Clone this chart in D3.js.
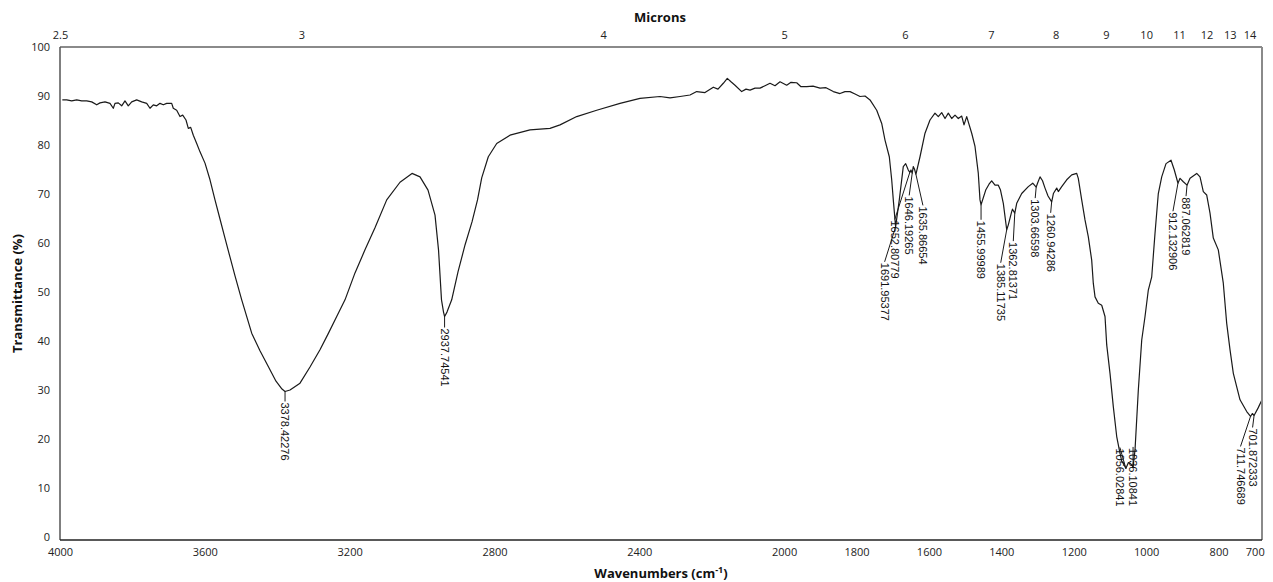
<!DOCTYPE html>
<html>
<head>
<meta charset="utf-8">
<script src="https://d3js.org/d3.v7.min.js"></script>
<style>
  body { margin: 0; background: #fff; }
  svg { display: block; }
</style>
</head>
<body>
<svg id="chart" width="1273" height="582"></svg>
<script>
// spectrum: wavenumber (cm-1) and transmittance (%)
var wavenumber = [
  3993.6, 3981.5, 3967.7, 3953.9, 3940.1, 3926.3, 3912.4, 3898.6, 3889.5, 3875.7,
  3861.9, 3852.8, 3848.1, 3839.0, 3829.6, 3820.5, 3811.4, 3802.0, 3788.2, 3774.3,
  3760.5, 3751.4, 3742.3, 3732.9, 3723.8, 3714.7, 3705.3, 3691.5, 3687.1, 3677.7,
  3668.6, 3661.1, 3652.0, 3645.6, 3639.0, 3631.8, 3622.4, 3613.3, 3599.5, 3585.7,
  3571.9, 3558.1, 3544.3, 3530.4, 3516.6, 3498.1, 3470.5, 3447.6, 3424.7, 3403.4,
  3386.8, 3378.4, 3364.7, 3337.1, 3309.5, 3281.9, 3259.8, 3235.7, 3212.8, 3185.2,
  3157.6, 3130.0, 3097.6, 3060.9, 3027.7, 3005.6, 2983.5, 2964.2, 2954.5, 2946.3,
  2940.7, 2937.7, 2931.1, 2918.1, 2900.7, 2881.3, 2862.0, 2846.8, 2835.2, 2817.0,
  2793.8, 2757.1, 2701.8, 2646.6, 2618.9, 2572.8, 2517.6, 2453.2, 2398.0, 2342.7,
  2315.1, 2287.5, 2259.9, 2241.4, 2218.5, 2195.5, 2182.6, 2167.9, 2156.9, 2146.7,
  2135.6, 2117.1, 2105.2, 2094.2, 2080.3, 2066.5, 2052.7, 2038.9, 2025.1, 2011.3,
  1992.8, 1980.9, 1965.2, 1953.3, 1937.6, 1920.1, 1900.8, 1884.2, 1864.1, 1845.6,
  1831.8, 1817.9, 1804.1, 1790.3, 1776.5, 1762.7, 1744.2, 1730.4, 1721.3, 1709.4,
  1702.8, 1698.4, 1692.0, 1681.8, 1670.8, 1664.2, 1657.0, 1652.8, 1649.5, 1646.2,
  1643.2, 1639.5, 1635.9, 1624.6, 1610.8, 1597.0, 1583.2, 1574.1, 1564.7, 1555.5,
  1546.4, 1537.1, 1527.9, 1518.8, 1509.4, 1503.1, 1495.6, 1481.8, 1472.7, 1463.6,
  1458.9, 1456.0, 1443.1, 1434.0, 1426.7, 1417.4, 1408.3, 1402.3, 1394.5, 1385.1,
  1380.7, 1371.4, 1369.2, 1362.8, 1357.5, 1343.7, 1325.5, 1313.3, 1303.7, 1300.0,
  1293.1, 1286.2, 1279.3, 1271.0, 1260.9, 1256.2, 1247.0, 1242.6, 1233.2, 1219.4,
  1205.6, 1191.8, 1187.4, 1178.0, 1168.9, 1159.8, 1150.4, 1146.0, 1141.2, 1132.1,
  1122.7, 1113.6, 1108.9, 1099.8, 1090.7, 1081.3, 1074.1, 1067.5, 1061.2, 1056.0,
  1049.0, 1042.0, 1036.1, 1030.7, 1021.6, 1012.2, 1003.1, 994.0, 984.6, 975.5,
  966.4, 957.0, 945.1, 931.3, 922.2, 912.1, 906.4, 897.3, 887.1, 878.8,
  860.3, 851.2, 842.1, 832.8, 823.6, 814.5, 800.7, 786.9, 777.5, 768.3,
  759.2, 740.7, 722.2, 711.7, 706.7, 701.9, 691.0, 680.0
];
var transmittance = [
  89.2, 89.2, 89.0, 89.2, 89.0, 89.0, 88.8, 88.2, 88.6, 88.8,
  88.5, 87.5, 88.5, 88.6, 88.0, 89.0, 88.0, 88.8, 89.2, 88.8,
  88.5, 87.5, 88.2, 88.0, 88.5, 88.2, 88.5, 88.5, 87.5, 87.1,
  85.8, 86.1, 85.1, 83.4, 83.6, 82.0, 80.3, 78.6, 76.3, 72.9,
  68.8, 64.9, 61.0, 57.1, 53.3, 48.4, 41.6, 38.0, 34.8, 31.8,
  30.2, 29.7, 30.0, 31.4, 34.7, 38.2, 41.4, 45.0, 48.4, 53.9,
  58.6, 63.1, 68.8, 72.4, 74.2, 73.5, 70.8, 65.7, 58.6, 48.4,
  45.9, 45.0, 45.9, 48.4, 54.1, 59.6, 64.3, 68.8, 73.3, 77.6,
  80.3, 82.0, 83.1, 83.4, 84.1, 85.8, 87.1, 88.5, 89.5, 89.9,
  89.6, 89.9, 90.2, 90.9, 90.7, 91.8, 91.4, 92.6, 93.6, 92.9,
  92.2, 90.9, 91.4, 91.2, 91.6, 91.6, 92.1, 92.6, 92.1, 92.9,
  92.2, 92.8, 92.7, 91.9, 91.9, 92.0, 91.6, 91.7, 90.9, 90.5,
  90.9, 90.9, 90.4, 89.9, 90.0, 89.2, 87.1, 84.4, 81.0, 77.6,
  72.9, 68.8, 63.3, 68.8, 75.6, 76.2, 74.9, 74.4, 74.9, 74.2,
  75.6, 75.0, 74.0, 77.6, 82.4, 85.1, 86.5, 85.8, 86.6, 85.4,
  86.5, 85.4, 86.1, 85.4, 85.9, 84.1, 85.8, 82.4, 79.7, 74.2,
  68.8, 67.8, 70.8, 72.0, 72.7, 71.8, 71.8, 70.8, 68.1, 62.7,
  63.7, 66.4, 66.9, 66.1, 68.1, 70.1, 71.5, 72.2, 71.4, 72.2,
  73.5, 72.7, 71.2, 69.6, 68.4, 70.1, 71.2, 70.5, 71.5, 72.9,
  73.9, 74.2, 73.2, 68.8, 64.7, 61.3, 56.5, 51.8, 49.0, 47.7,
  47.3, 45.0, 39.2, 33.4, 26.6, 20.5, 17.8, 15.5, 14.8, 14.0,
  15.2, 14.9, 14.3, 17.8, 30.0, 40.2, 45.0, 50.4, 53.1, 62.0,
  70.1, 73.5, 76.2, 76.9, 74.9, 72.2, 73.2, 72.5, 71.8, 73.2,
  74.2, 73.5, 70.5, 69.8, 66.1, 61.0, 58.6, 51.8, 43.6, 38.2,
  33.4, 28.0, 25.6, 24.6, 25.2, 24.8, 26.3, 28.0
];

// labelled peaks
var peakLabels = [
  "3378.42276", "2937.74541", "1691.95377", "1652.80779", "1646.19265", "1635.86654",
  "1455.99989", "1385.11735", "1362.81371", "1303.66598", "1260.94286", "1056.02841",
  "1036.10841", "912.132906", "887.062819", "711.746689", "701.872333"
];
var peakT = [29.7, 45.0, 63.3, 74.4, 74.2, 74.0, 67.8, 62.7, 66.1, 71.4, 68.4, 14.0, 14.3, 72.2, 71.8, 24.6, 24.8];

// tick labels
var waveTicks = [4000, 3600, 3200, 2800, 2400, 2000, 1800, 1600, 1400, 1200, 1000, 800, 700];
var micronTicks = [2.5, 3, 4, 5, 6, 7, 8, 9, 10, 11, 12, 13, 14];
var yTicks = [0, 10, 20, 30, 40, 50, 60, 70, 80, 90, 100];

// where each peak label sits relative to its peak (px)
var labelShift = [
  [0, 11], [0, 12], [-11, 36], [-15, 48], [-3, 23], [7, 32],
  [0, 16], [-6, 34], [-1.5, 29], [-1, 12], [-1, 12], [-6, -20],
  [0, -19], [-5, 29], [-1, 12], [-10, 31], [-1.5, 13]
];

var plotL = 60, plotR = 1262, plotT = 47, plotB = 540;
var tickFont = "'Open Sans', 'DejaVu Sans', sans-serif";

var x = d3.scaleLinear().domain([4000, 680]).range([plotL, plotR]);
var y = d3.scaleLinear().domain([0, 100]).range([537, plotT]);

var svg = d3.select("#chart");

var spectrum = wavenumber.map((w, i) => ({ w: w, t: transmittance[i] }));

var line = d3.line()
  .x(d => x(d.w))
  .y(d => y(d.t));

svg.append("path")
  .datum(spectrum)
  .attr("fill", "none")
  .attr("stroke", "#1a1a1a")
  .attr("stroke-width", 1.2)
  .attr("stroke-linejoin", "round")
  .attr("d", line);

// frame
svg.append("line").attr("x1", plotL).attr("x2", plotR).attr("y1", plotT).attr("y2", plotT)
  .attr("stroke", "#8a8a8a").attr("stroke-width", 2);
svg.append("line").attr("x1", plotR).attr("x2", plotR).attr("y1", plotT).attr("y2", plotB)
  .attr("stroke", "#8a8a8a").attr("stroke-width", 2);
svg.append("line").attr("x1", plotL).attr("x2", plotL).attr("y1", plotT).attr("y2", plotB)
  .attr("stroke", "#555").attr("stroke-width", 1.5);
svg.append("line").attr("x1", plotL).attr("x2", plotR).attr("y1", plotB).attr("y2", plotB)
  .attr("stroke", "#222").attr("stroke-width", 1.5);

// axes
var xAxis = svg.append("g")
  .attr("transform", `translate(0,${plotB})`)
  .call(d3.axisBottom(x).tickValues(waveTicks).tickSize(0).tickPadding(8).tickFormat(d3.format("d")));

var yAxis = svg.append("g")
  .attr("transform", `translate(${plotL},0)`)
  .call(d3.axisLeft(y).tickValues(yTicks).tickSize(0).tickPadding(10));

var topAxis = svg.append("g")
  .attr("transform", `translate(0,${plotT})`)
  .call(d3.axisTop(x).tickValues(micronTicks.map(m => 1e4 / m)).tickSize(0).tickPadding(8)
    .tickFormat((d, i) => micronTicks[i]));

[xAxis, yAxis, topAxis].forEach(g => {
  g.select(".domain").remove();
  g.selectAll("text")
    .attr("fill", "#222")
    .style("font-family", tickFont)
    .style("font-size", "11px");
});

// axis titles
svg.append("text")
  .attr("x", 660).attr("y", 22)
  .attr("text-anchor", "middle")
  .style("font-family", tickFont).style("font-size", "13px").style("font-weight", "bold")
  .attr("fill", "#111")
  .text("Microns");

svg.append("text")
  .attr("transform", `translate(22,${(plotT + plotB) / 2}) rotate(-90)`)
  .attr("text-anchor", "middle")
  .style("font-family", tickFont).style("font-size", "13px").style("font-weight", "bold")
  .attr("fill", "#111")
  .text("Transmittance (%)");

var xt = svg.append("text")
  .attr("x", 661).attr("y", 578)
  .attr("text-anchor", "middle")
  .style("font-family", tickFont).style("font-size", "13px").style("font-weight", "bold")
  .attr("fill", "#111");
xt.append("tspan").text("Wavenumbers (cm");
xt.append("tspan").attr("dy", -5).style("font-size", "9px").text("-1");
xt.append("tspan").attr("dy", 5).text(")");

// peak labels with leader lines
var peaks = peakLabels.map((s, i) => ({ s: s, w: +s, t: peakT[i], dx: labelShift[i][0], dy: labelShift[i][1] }));

var pk = svg.append("g");

pk.selectAll("line")
  .data(peaks)
  .join("line")
  .attr("x1", d => x(d.w))
  .attr("y1", d => y(d.t))
  .attr("x2", d => x(d.w) + d.dx)
  .attr("y2", d => y(d.t) + d.dy - 1)
  .attr("stroke", "#1a1a1a")
  .attr("stroke-width", 1);

pk.selectAll("text")
  .data(peaks)
  .join("text")
  .attr("transform", d => `translate(${x(d.w) + d.dx},${y(d.t) + d.dy}) rotate(90)`)
  .attr("dominant-baseline", "central")
  .style("font-family", "'Liberation Sans', Arial, sans-serif")
  .style("font-size", "11px")
  .attr("fill", "#111")
  .text(d => d.s);
</script>
</body>
</html>
